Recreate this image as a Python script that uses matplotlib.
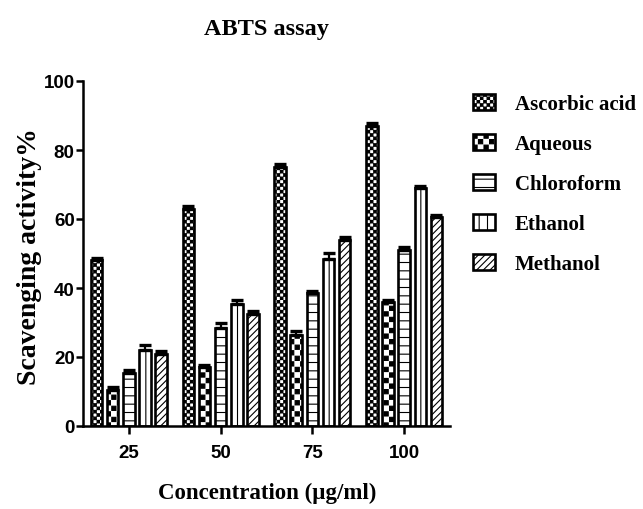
import numpy as np
import matplotlib
matplotlib.use("Agg")
import matplotlib.pyplot as plt
import matplotlib.hatch as mhatch
from matplotlib.path import Path
from matplotlib.patches import Patch

# ---------------- data ----------------
concentrations = ["25", "50", "75", "100"]
series_names = ["Ascorbic acid", "Aqueous", "Chloroform", "Ethanol", "Methanol"]
ascorbic = [48.0, 63.0, 75.0, 87.0]
aqueous = [10.5, 17.0, 26.5, 36.0]
chloroform = [15.5, 28.5, 38.5, 51.0]
ethanol = [22.0, 35.5, 48.5, 69.0]
methanol = [21.0, 32.5, 54.0, 60.5]
err_ascorbic = [0.6, 0.7, 0.8, 0.7]
err_aqueous = [0.8, 0.8, 0.9, 0.5]
err_chloroform = [0.6, 1.5, 0.5, 0.8]
err_ethanol = [1.6, 1.0, 1.6, 0.6]
err_methanol = [0.6, 0.7, 0.8, 0.8]
yticks = [0, 20, 40, 60, 80, 100]

values = [ascorbic, aqueous, chloroform, ethanol, methanol]
errors = [err_ascorbic, err_aqueous, err_chloroform, err_ethanol, err_methanol]


# -------- checkerboard hatch patterns --------
class _Checker(mhatch.HatchPatternBase):
    char = '*'

    def __init__(self, hatch, density):
        self.n = hatch.count(self.char) * density
        if self.n:
            self.cells = [(i, j) for i in range(self.n) for j in range(self.n)
                          if (i + j) % 2 == 0]
        else:
            self.cells = []
        self.num_vertices = len(self.cells) * 5

    def set_vertices_and_codes(self, vertices, codes):
        s = 1.0 / self.n
        m = 0.12 * s
        k = 0
        for i, j in self.cells:
            x0, y0 = i * s + m, j * s + m
            x1, y1 = (i + 1) * s - m, (j + 1) * s - m
            vertices[k:k + 5] = [[x0, y0], [x1, y0], [x1, y1], [x0, y1], [x0, y0]]
            codes[k:k + 5] = [Path.MOVETO, Path.LINETO, Path.LINETO,
                              Path.LINETO, Path.CLOSEPOLY]
            k += 5


class _FineChecker(_Checker):
    char = 'o'


_types = mhatch._hatch_types
for idx, t in enumerate(list(_types)):
    if t is mhatch.Stars:
        _types[idx] = _Checker
    elif t is mhatch.SmallCircles:
        _types[idx] = _FineChecker

hatches = ['ooooo', '***', '--', '||', '/////']

plt.rcParams['hatch.linewidth'] = 0.8
serif = ['Liberation Serif', 'DejaVu Serif']
sans = ['Liberation Sans', 'DejaVu Sans']

fig = plt.figure(figsize=(6.43, 5.10), dpi=100)
ax = fig.add_axes([83 / 643, 1 - 427 / 510, 367 / 643, 345 / 510])

x = np.arange(1, len(concentrations) + 1)
step = 0.176
width = 0.125
for k, (vals, errs, h, name) in enumerate(zip(values, errors, hatches, series_names)):
    pos = x + (k - 2) * step
    ax.bar(pos, vals, width=width, color='white', edgecolor='black',
           linewidth=1.9, hatch=h, zorder=2, label=name)
    ax.errorbar(pos, vals, yerr=[np.zeros(len(vals)), errs], fmt='none',
                ecolor='black', elinewidth=1.6, capsize=4.5, capthick=2.4,
                zorder=3)

ax.set_xlim(0.5, 4.5)
ax.set_ylim(0, 100)
ax.set_xticks(x)
ax.set_xticklabels(concentrations)
ax.set_yticks(yticks)
ax.spines['top'].set_visible(False)
ax.spines['right'].set_visible(False)
ax.spines['left'].set_linewidth(1.8)
ax.spines['bottom'].set_linewidth(1.8)
ax.tick_params(axis='both', width=1.8, length=5, direction='out', pad=1)
ax.tick_params(axis='x', length=6, pad=7)
for lbl in ax.get_xticklabels() + ax.get_yticklabels():
    lbl.set_fontfamily(sans)
    lbl.set_fontweight('bold')
    lbl.set_fontsize(13.5)

ax.set_title('ABTS assay', fontfamily=serif, fontweight='bold', fontsize=17.5,
             y=(427 - 35) / 345, va='baseline', pad=0)
ax.set_xlabel('Concentration (µg/ml)', fontfamily=serif, fontweight='bold',
              fontsize=16.5, va='center')
ax.xaxis.set_label_coords(0.501, (427 - 493) / 345)
ax.set_ylabel('Scavenging activity%', fontfamily=serif, fontweight='bold',
              fontsize=20, va='center')
ax.yaxis.set_label_coords((30 - 83) / 367, (427 - 257) / 345)

handles = [Patch(facecolor='white', edgecolor='black', linewidth=1.9, hatch=h)
           for h in hatches]
fig.legend(handles, series_names, loc='upper left',
           bbox_to_anchor=(473 / 643, 1 - 95 / 510), frameon=False,
           prop={'family': serif, 'weight': 'bold', 'size': 15},
           handlelength=1.05, handleheight=0.8, handletextpad=0.95,
           labelspacing=0.95, borderpad=0, borderaxespad=0)

fig.savefig('out.png', dpi=100)
